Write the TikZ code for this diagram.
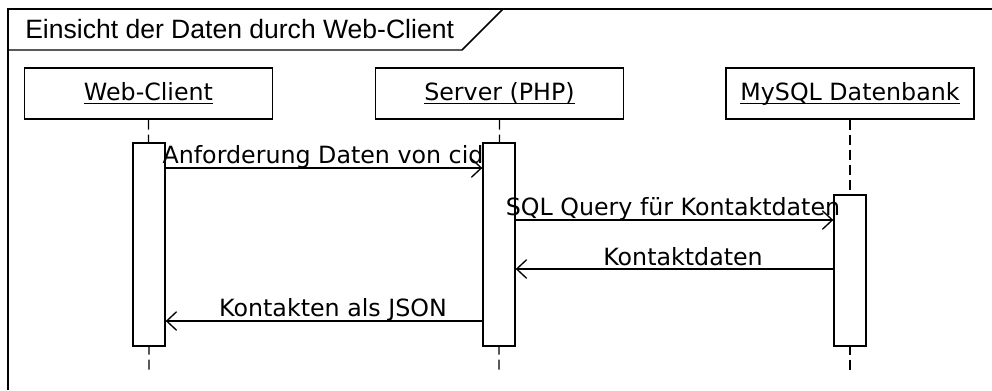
\documentclass[tikz,border=0pt]{standalone}
\usepackage{fontspec}
\setmainfont{DejaVu Sans}
\newfontfamily\titlefont{Liberation Sans}
\usetikzlibrary{arrows.meta}
\begin{document}
\begin{tikzpicture}[x=0.75pt,y=-0.75pt,
  frameline/.style={line width=1.1pt,black},
  headbox/.style={draw,line width=1pt,fill=white,minimum width=186pt,minimum height=38.25pt,inner sep=0pt},
  actbox/.style={draw,line width=1pt,fill=white,minimum width=24pt,inner sep=0pt},
  lifeline/.style={line width=1pt,dash pattern=on 7.5pt off 3.75pt},
  msg/.style={line width=1pt,-{Straight Barb[length=7.5pt,width=14pt,line width=1pt]}},
  lbl/.style={inner sep=0pt,anchor=base,font=\fontsize{17.8pt}{20pt}\selectfont},
  ttl/.style={inner sep=0pt,anchor=base west,font=\titlefont\fontsize{19.9pt}{22pt}\selectfont}]
\useasboundingbox (0,0) rectangle (992,390);
% frame
\draw[frameline] (8,390) -- (8,9) -- (992,9);
\draw[frameline] (8,50) -- (462,50) -- (503,9);
\node[ttl] (title) at (25,38) {Einsicht der Daten durch Web-Client};
% heads
\node[headbox] (h1) at (148.5,93.5) {};
\node[headbox] (h2) at (499.5,93.5) {};
\node[headbox] (h3) at (850,93.5) {};
\node[lbl] (t1) at (148.5,100) {Web-Client};
\node[lbl] (t2) at (499.5,100) {Server (PHP)};
\node[lbl] (t3) at (850,100) {MySQL Datenbank};
\foreach \t in {t1,t2,t3} {
  \draw[line width=0.9pt] ([yshift=-2.4pt]\t.base west) -- ([yshift=-2.4pt]\t.base east);
}
% lifelines
\coordinate (e1) at (149,373);
\coordinate (e2) at (499,373);
\coordinate (e3) at (850,373);
\draw[lifeline] (h1.south) -- (e1);
\draw[lifeline] (h2.south) -- (e2);
\draw[lifeline] (h3.south) -- (e3);
% activations
\node[actbox,minimum height=152.25pt] (a1) at (149,244.5) {};
\node[actbox,minimum height=152.25pt] (a2) at (499,244.5) {};
\node[actbox,minimum height=113.25pt] (a3) at (850,270.5) {};
% messages
\draw[msg] (a1.east |- 0,168) -- (a2.west |- 0,168);
\draw[msg] (a2.east |- 0,220) -- (a3.west |- 0,220);
\draw[msg] (a3.west |- 0,269) -- (a2.east |- 0,269);
\draw[msg] (a2.west |- 0,321) -- (a1.east |- 0,321);
\node[lbl] (m1) at (323,163) {Anforderung Daten von cid};
\node[lbl] (m2) at (673,215) {SQL Query für Kontaktdaten};
\node[lbl] (m3) at (683,265) {Kontaktdaten};
\node[lbl] (m4) at (333,316) {Kontakten als JSON};
\end{tikzpicture}
\end{document}
